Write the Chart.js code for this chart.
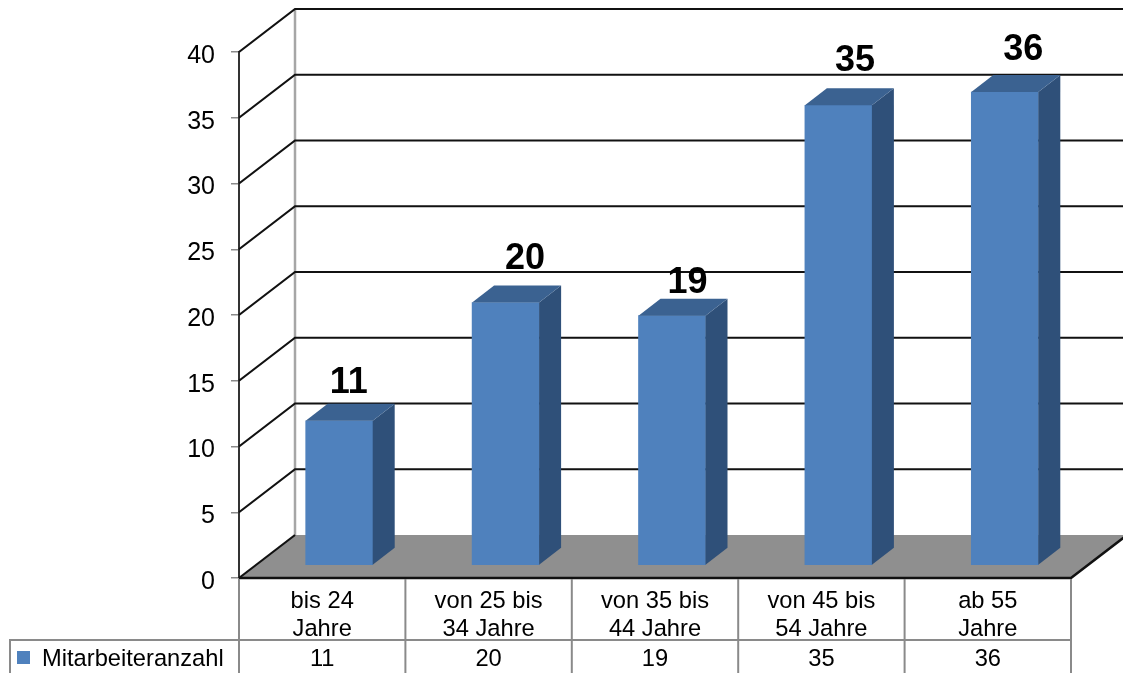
<!DOCTYPE html>
<html>
<head>
<meta charset="utf-8">
<title>Mitarbeiteranzahl</title>
<script src="https://cdn.jsdelivr.net/npm/chart.js@4"></script>
<style>
    html, body { margin: 0; padding: 0; background: #fff; overflow: hidden; }
    canvas { display: block; }
</style>
</head>
<body>
<canvas id="chart" width="1123" height="673"></canvas>
<script>
const categories = [['bis 24', 'Jahre'], ['von 25 bis', '34 Jahre'], ['von 35 bis', '44 Jahre'], ['von 45 bis', '54 Jahre'], ['ab 55', 'Jahre']];
const seriesName = 'Mitarbeiteranzahl';
const values = [11, 20, 19, 35, 36];
const tickStep = 5;
const tickMax = 40;

// 3d look of the old office chart
const wallX = 56, wallY = 43;
const barShiftX = 17, barShiftY = 12.5;
const depthX = 22, depthY = 17;
const labelNudge = [[-6, 4], [4, -1], [0, 9], [1, -2], [3, 0]];
const FONT = '"Liberation Sans", Arial, sans-serif';

const fake3d = {
    id: 'fake3d',
    beforeDatasetsDraw(chart) {
        const { ctx, chartArea: a, scales: { y } } = chart;
        const y0 = y.getPixelForValue(0);

        ctx.save();
        // floor
        ctx.fillStyle = '#8f8f8f';
        ctx.beginPath();
        ctx.moveTo(a.left, y0);
        ctx.lineTo(a.left + wallX, y0 - wallY);
        ctx.lineTo(a.right + wallX, y0 - wallY);
        ctx.lineTo(a.right, y0);
        ctx.closePath();
        ctx.fill();

        // back wall edge
        ctx.strokeStyle = '#a6a6a6';
        ctx.lineWidth = 2.5;
        ctx.beginPath();
        ctx.moveTo(a.left + wallX, y.getPixelForValue(tickMax) - wallY);
        ctx.lineTo(a.left + wallX, y0 - wallY);
        ctx.stroke();

        // grid lines go over side wall and back wall
        ctx.strokeStyle = '#111';
        for (let v = 0; v <= tickMax; v += tickStep) {
            const py = y.getPixelForValue(v);
            ctx.lineWidth = 2.2;
            ctx.beginPath();
            ctx.moveTo(a.left, py);
            ctx.lineTo(a.left + wallX, py - wallY);
            if (v > 0) ctx.lineTo(a.right + wallX, py - wallY);
            ctx.stroke();
        }

        // front edge of floor
        ctx.lineWidth = 2.5;
        ctx.beginPath();
        ctx.moveTo(a.left, y0);
        ctx.lineTo(a.right, y0);
        ctx.lineTo(a.right + wallX, y0 - wallY);
        ctx.stroke();
        ctx.restore();

        ctx.save();
        ctx.translate(barShiftX, -barShiftY);
    },
    afterDatasetsDraw(chart) {
        const { ctx } = chart;
        const bars = chart.getDatasetMeta(0).data;

        bars.forEach((bar, i) => {
            const left = bar.x - bar.width / 2;
            const right = bar.x + bar.width / 2;

            // side
            ctx.fillStyle = '#2f5079';
            ctx.beginPath();
            ctx.moveTo(right, bar.y);
            ctx.lineTo(right + depthX, bar.y - depthY);
            ctx.lineTo(right + depthX, bar.base - depthY);
            ctx.lineTo(right, bar.base);
            ctx.closePath();
            ctx.fill();

            // top
            ctx.fillStyle = '#3b6291';
            ctx.beginPath();
            ctx.moveTo(left, bar.y);
            ctx.lineTo(left + depthX, bar.y - depthY);
            ctx.lineTo(right + depthX, bar.y - depthY);
            ctx.lineTo(right, bar.y);
            ctx.closePath();
            ctx.fill();

            // value on top
            ctx.fillStyle = '#000';
            ctx.font = 'bold 36px ' + FONT;
            ctx.textAlign = 'center';
            ctx.textBaseline = 'middle';
            ctx.fillText(values[i], bar.x + 15.5 + labelNudge[i][0], bar.y - depthY - 25 + labelNudge[i][1]);
        });
        ctx.restore();
    },
    afterDraw(chart) {
        // data table below the chart
        const { ctx, chartArea: a, scales: { x, y } } = chart;
        const rowTop = 640, bottom = 673, boxLeft = 10;
        const edges = [a.left];
        values.forEach((v, i) => edges.push(a.left + (i + 1) * (a.right - a.left) / values.length));

        ctx.save();
        ctx.strokeStyle = '#8a8a8a';
        ctx.lineWidth = 2;
        edges.forEach(ex => {
            ctx.beginPath();
            ctx.moveTo(ex, a.bottom + 1);
            ctx.lineTo(ex, bottom);
            ctx.stroke();
        });
        ctx.beginPath();
        ctx.moveTo(boxLeft, bottom);
        ctx.lineTo(boxLeft, rowTop);
        ctx.lineTo(a.right, rowTop);
        ctx.stroke();

        ctx.fillStyle = '#4f81bd';
        ctx.fillRect(17, 651, 13, 13);

        ctx.fillStyle = '#000';
        ctx.font = '23.7px ' + FONT;
        ctx.textBaseline = 'middle';
        ctx.textAlign = 'left';
        ctx.fillText(seriesName, 42, 659);
        ctx.textAlign = 'center';
        values.forEach((v, i) => ctx.fillText(v, x.getPixelForValue(i), 659));

        // y tick labels sit a bit below their tick marks
        ctx.font = '25px ' + FONT;
        ctx.textAlign = 'right';
        y.ticks.forEach((t, i) => ctx.fillText(t.label, 215, y.getPixelForTick(i) + 4));
        ctx.restore();
    }
};

new Chart(document.getElementById('chart'), {
    type: 'bar',
    data: {
        labels: categories,
        datasets: [{
            label: seriesName,
            data: values,
            backgroundColor: '#4f81bd',
            barThickness: 67,
            clip: false
        }]
    },
    options: {
        responsive: false,
        animation: false,
        layout: { padding: { left: 0, top: 52, right: 52, bottom: 0 } },
        plugins: {
            legend: { display: false },
            tooltip: { enabled: false }
        },
        scales: {
            x: {
                afterFit(scale) { scale.height = 95; },
                border: { display: false },
                grid: { display: false },
                ticks: {
                    color: '#000',
                    font: { family: FONT, size: 23.7, lineHeight: 1.19 },
                    maxRotation: 0,
                    autoSkip: false,
                    padding: 1
                }
            },
            y: {
                min: 0,
                max: tickMax,
                afterFit(scale) { scale.width = 239; },
                border: { display: true, color: '#333', width: 2 },
                grid: { drawOnChartArea: false, color: '#8a8a8a', tickLength: 8, lineWidth: 1.5 },
                ticks: {
                    stepSize: tickStep,
                    color: 'rgba(0,0,0,0)',
                    font: { family: FONT, size: 25 },
                    padding: 8
                }
            }
        }
    },
    plugins: [fake3d]
});
</script>
</body>
</html>
